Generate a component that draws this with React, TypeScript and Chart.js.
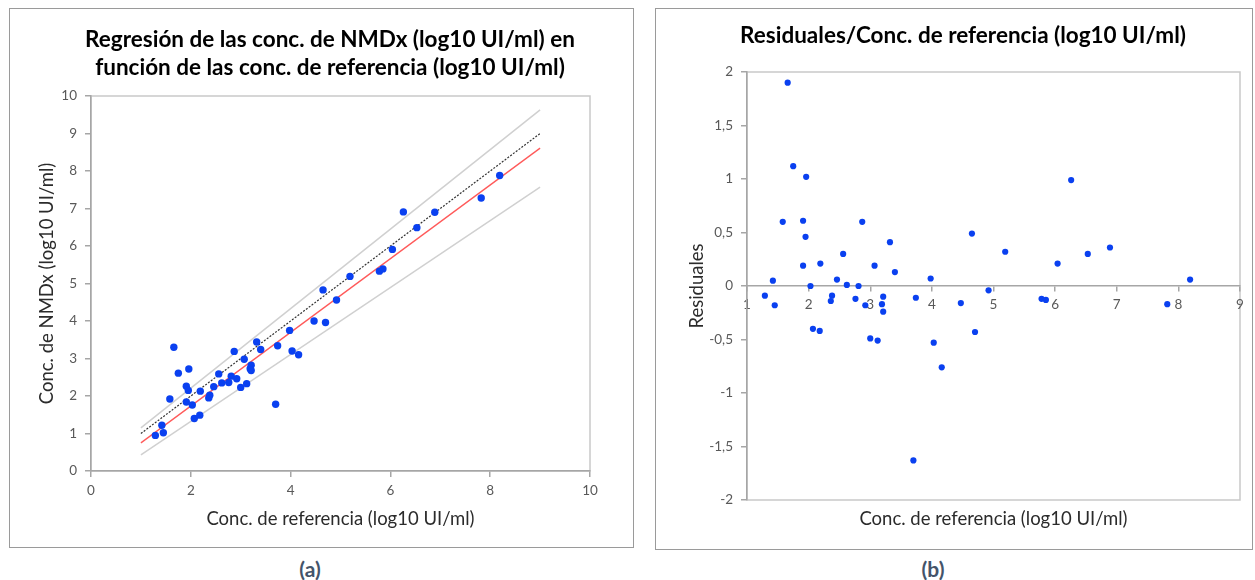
import React, { useEffect, useRef } from 'react';
import { Chart, registerables } from 'chart.js';
Chart.register(...registerables);

// ---- data ----
const refConc = [
  1.66, 1.75, 1.96, 1.58, 1.91, 1.95, 1.91, 2.19, 2.56, 2.87,
  3.32, 3.07, 3.40, 3.98, 4.65, 5.19, 1.42, 2.46, 2.62, 2.81,
  2.03, 1.29, 1.45, 2.38, 2.36, 2.76, 2.92, 3.21, 3.19, 3.21,
  3.74, 4.47, 4.92, 2.07, 2.18, 3.00, 3.12, 4.03, 4.70, 4.16,
  3.70, 6.26, 6.04, 6.53, 6.89, 8.19, 5.78, 5.85, 7.82,
];
const nmdxConc = [
  3.30, 2.61, 2.72, 1.92, 2.26, 2.15, 1.84, 2.13, 2.59, 3.19,
  3.44, 2.98, 3.24, 3.75, 4.83, 5.19, 1.22, 2.25, 2.35, 2.53,
  1.76, 0.95, 1.02, 2.02, 1.95, 2.36, 2.46, 2.82, 2.73, 2.68,
  3.34, 4.00, 4.56, 1.40, 1.49, 2.23, 2.33, 3.20, 3.96, 3.10,
  1.78, 6.91, 5.91, 6.49, 6.90, 7.88, 5.33, 5.39, 7.28,
];
const residuals = [
  1.90, 1.12, 1.02, 0.60, 0.61, 0.46, 0.19, 0.21, 0.30, 0.60,
  0.41, 0.19, 0.13, 0.07, 0.49, 0.32, 0.05, 0.06, 0.01, 0.00,
  0.00, -0.09, -0.18, -0.09, -0.14, -0.12, -0.18, -0.10, -0.17, -0.24,
  -0.11, -0.16, -0.04, -0.40, -0.42, -0.49, -0.51, -0.53, -0.43, -0.76,
  -1.63, 0.99, 0.21, 0.30, 0.36, 0.06, -0.12, -0.13, -0.17,
];
const lineX = [1, 9];
const regressionY = [0.75, 8.61];
const identityY = [1, 9];
const upperBandY = [1.15, 9.63];
const lowerBandY = [0.43, 7.57];

const titleA = ['Regresión de las conc. de NMDx (log10 UI/ml) en', 'función de las conc. de referencia (log10 UI/ml)'];
const titleB = 'Residuales/Conc. de referencia (log10 UI/ml)';
const xTitle = 'Conc. de referencia (log10 UI/ml)';
const yTitleA = 'Conc. de NMDx (log10 UI/ml)';
const yTitleB = 'Residuales';

const FONT = 'Lato, "Open Sans", sans-serif';
const POINT = '#0a40f0';
const AXIS = '#a6a6a6';
const TICK_COLOR = '#595959';
const TITLE_COLOR = '#2b2b2b';
const AXIS_TITLE_SIZE = 18.5;

const areaBorder = {
  id: 'areaBorder',
  beforeDraw(chart: any) {
    const { ctx, chartArea } = chart;
    if (!chartArea) return;
    const { left, top, right, bottom } = chartArea;
    ctx.save();
    ctx.strokeStyle = '#c9c9c9';
    ctx.lineWidth = 1.5;
    ctx.strokeRect(left, top, right - left, bottom - top);
    ctx.restore();
  },
};

const pts = (xs: number[], ys: number[]) => xs.map((x, i) => ({ x, y: ys[i] }));

function tickFont() {
  return { family: FONT, size: 13.5 };
}

function PanelA() {
  const ref = useRef<HTMLCanvasElement>(null);
  useEffect(() => {
    const chart = new Chart(ref.current!, {
      type: 'scatter',
      data: {
        datasets: [
          { data: pts(refConc, nmdxConc), backgroundColor: POINT, borderColor: POINT, pointRadius: 3.7, pointBorderWidth: 0 },
          { data: pts(lineX, identityY), showLine: true, pointRadius: 0, borderColor: '#333333', borderWidth: 1.2, borderDash: [2, 1.5] },
          { data: pts(lineX, regressionY), showLine: true, pointRadius: 0, borderColor: '#ff5a5a', borderWidth: 1.3 },
          { data: pts(lineX, upperBandY), showLine: true, pointRadius: 0, borderColor: '#d0d0d0', borderWidth: 1.5 },
          { data: pts(lineX, lowerBandY), showLine: true, pointRadius: 0, borderColor: '#d0d0d0', borderWidth: 1.5 },
        ] as any,
      },
      options: {
        animation: false,
        responsive: false,
        events: [],
        layout: { padding: { top: 87, right: 43, left: 0, bottom: 0 } },
        plugins: { legend: { display: false }, tooltip: { enabled: false } },
        scales: {
          x: {
            type: 'linear', min: 0, max: 10,
            ticks: { stepSize: 2, color: TICK_COLOR, font: tickFont(), padding: 6 },
            grid: { drawOnChartArea: false, tickLength: 6, color: AXIS, lineWidth: 1.5 },
            border: { color: AXIS, width: 1.5 },
            title: { display: true, text: xTitle, color: TITLE_COLOR, font: { family: FONT, size: AXIS_TITLE_SIZE }, padding: { top: 0, bottom: 17 } },
            afterFit: (s: any) => { s.height = 76; },
          },
          y: {
            type: 'linear', min: 0, max: 10,
            ticks: { stepSize: 1, color: TICK_COLOR, font: tickFont(), padding: 8 },
            grid: { drawOnChartArea: false, tickLength: 6, color: AXIS, lineWidth: 1.5 },
            border: { color: AXIS, width: 1.5 },
            title: { display: true, text: yTitleA, color: TITLE_COLOR, font: { family: FONT, size: AXIS_TITLE_SIZE }, padding: { top: 26, bottom: 0 } },
            afterFit: (s: any) => { s.width = 81; },
          },
        } as any,
      },
      plugins: [areaBorder],
    });
    return () => chart.destroy();
  }, []);
  return <canvas ref={ref} width={623} height={538} style={{ display: 'block', width: 623, height: 538 }} />;
}

function PanelB() {
  const ref = useRef<HTMLCanvasElement>(null);
  useEffect(() => {
    const chart = new Chart(ref.current!, {
      type: 'scatter',
      data: {
        datasets: [
          { data: pts(refConc, residuals), backgroundColor: POINT, borderColor: POINT, pointRadius: 3.1, pointBorderWidth: 0, xAxisID: 'x', yAxisID: 'y' },
        ] as any,
      },
      options: {
        animation: false,
        responsive: false,
        events: [],
        layout: { padding: { top: 63, right: 12, left: 0, bottom: 0 } },
        plugins: { legend: { display: false }, tooltip: { enabled: false } },
        scales: {
          x: {
            type: 'linear', axis: 'x', position: { y: 0 }, min: 1, max: 9,
            ticks: { stepSize: 1, color: TICK_COLOR, font: tickFont(), padding: 6 },
            grid: { drawOnChartArea: false, tickLength: 5, color: AXIS, lineWidth: 1.5 },
            border: { color: AXIS, width: 1.5 },
          },
          x2: {
            type: 'linear', axis: 'x', position: 'bottom', min: 1, max: 9,
            ticks: { display: false },
            grid: { display: false, drawTicks: false },
            border: { display: false },
            title: { display: true, text: xTitle, color: TITLE_COLOR, font: { family: FONT, size: AXIS_TITLE_SIZE }, padding: { top: 0, bottom: 19 } },
            afterFit: (s: any) => { s.height = 49; },
          },
          y: {
            type: 'linear', min: -2, max: 2,
            ticks: { stepSize: 0.5, color: TICK_COLOR, font: tickFont(), padding: 8, callback: (v: any) => String(v).replace('.', ',') },
            grid: { drawOnChartArea: false, tickLength: 6, color: AXIS, lineWidth: 1.5 },
            border: { color: AXIS, width: 1.5 },
            title: { display: true, text: yTitleB, color: TITLE_COLOR, font: { family: FONT, size: AXIS_TITLE_SIZE }, padding: { top: 30, bottom: 0 } },
            afterFit: (s: any) => { s.width = 91; },
          },
        } as any,
      },
      plugins: [areaBorder],
    });
    return () => chart.destroy();
  }, []);
  return <canvas ref={ref} width={596} height={540} style={{ display: 'block', width: 596, height: 540 }} />;
}

export default function App() {
  const frame: React.CSSProperties = { position: 'absolute', border: '1px solid #9a9a9a', background: '#fff' };
  const titleStyle: React.CSSProperties = {
    position: 'absolute', textAlign: 'center', fontFamily: FONT, fontWeight: 700, fontSize: 22.5,
    lineHeight: '28px', color: '#000', whiteSpace: 'nowrap',
  };
  const caption: React.CSSProperties = {
    position: 'absolute', textAlign: 'center', fontFamily: FONT, fontWeight: 700, fontSize: 21,
    lineHeight: '24px', color: '#44546a', width: 100,
  };
  return (
    <div style={{ position: 'absolute', left: 0, top: 0, width: 1255, height: 580, background: '#fff', overflow: 'hidden' }}>
      <div style={{ ...frame, left: 9, top: 8, width: 623, height: 538 }}>
        <PanelA />
      </div>
      <div style={{ ...frame, left: 655, top: 8, width: 596, height: 540 }}>
        <PanelB />
      </div>
      <div style={{ ...titleStyle, left: 30, top: 25, width: 600 }}>
        {titleA[0]}<br />{titleA[1]}
      </div>
      <div style={{ ...titleStyle, left: 663, top: 21, width: 600 }}>{titleB}</div>
      <div style={{ ...caption, left: 260, top: 557 }}>(a)</div>
      <div style={{ ...caption, left: 883, top: 557 }}>(b)</div>
    </div>
  );
}
